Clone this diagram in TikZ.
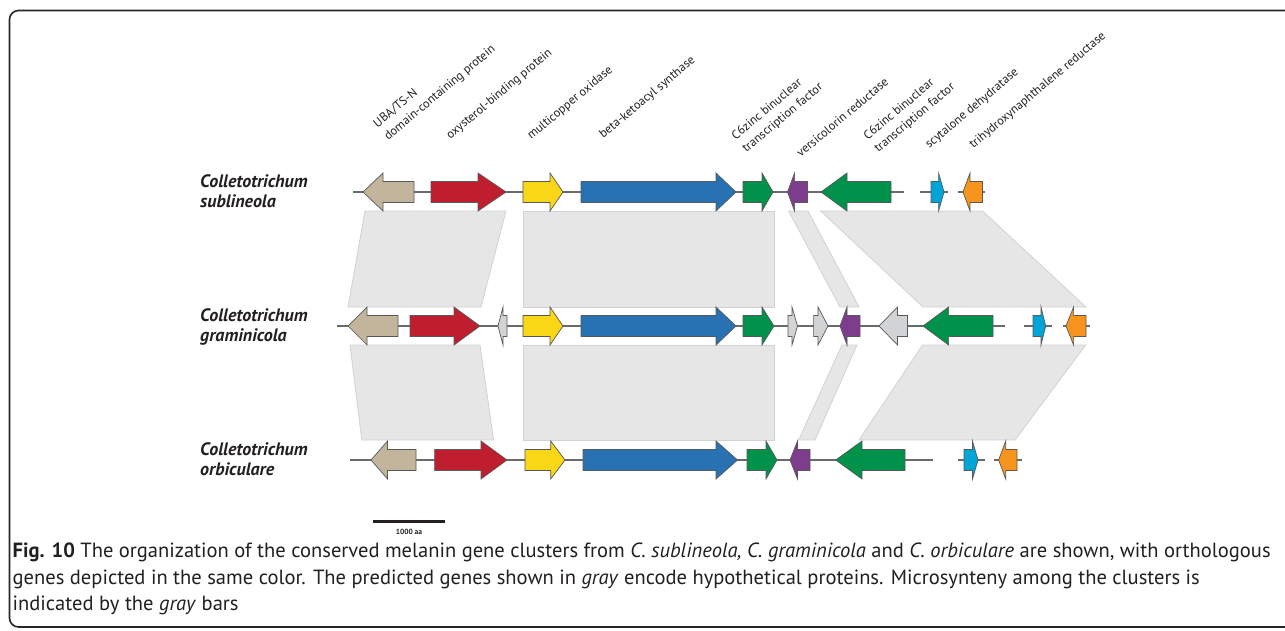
\documentclass[tikz,border=0pt]{standalone}
\usepackage{fontspec}
\setmainfont{PT Sans}
\definecolor{gtan}{HTML}{C2B59B}
\definecolor{gred}{HTML}{BE1E2D}
\definecolor{gyel}{HTML}{F9D616}
\definecolor{gblue}{HTML}{2872B4}
\definecolor{ggreen}{HTML}{00924A}
\definecolor{gpurp}{HTML}{7D3C8C}
\definecolor{gcyan}{HTML}{00A5D8}
\definecolor{gorange}{HTML}{F7941D}
\definecolor{ggray}{HTML}{D1D3D4}
\definecolor{barfill}{HTML}{E6E6E6}
\definecolor{barline}{HTML}{D2D2D2}
\definecolor{outl}{HTML}{58595B}
\definecolor{txt}{HTML}{231F20}
\newcommand{\genearrow}[5]{% y, body end, head base, tip, colour
  \draw[genestyle, fill=#5] (#2,#1-10.5) -- (#3,#1-10.5) -- (#3,#1-19) -- (#4,#1) -- (#3,#1+19) -- (#3,#1+10.5) -- (#2,#1+10.5) -- cycle;}
\newcommand{\capA}{\textbf{Fig. 10} The organization of the conserved melanin gene clusters from \textit{C. sublineola, C. graminicola} and \textit{C. orbiculare} are shown, with orthologous}
\newcommand{\capB}{genes depicted in the same color. The predicted genes shown in \textit{gray} encode hypothetical proteins. Microsynteny among the clusters is}
\newcommand{\capC}{indicated by the \textit{gray} bars}
\newsavebox\capmeasure
\begin{document}
\sbox\capmeasure{\fontsize{10}{12}\selectfont\capA}%
\pgfmathsetmacro\capsize{1258/\the\wd\capmeasure*10}%
\begin{tikzpicture}[x=1pt,y=-1pt,
  genestyle/.style={draw=outl, line width=0.7pt, line join=miter},
  backbone/.style={draw=outl!90, line width=1.1pt},
  bar/.style={fill=barfill, draw=barline, line width=0.8pt},
  lab/.style={font=\fontsize{12.3}{16.5}\selectfont, text=txt, rotate=40, anchor=south west, inner sep=0pt, align=left},
  species/.style={font=\fontsize{18}{20}\selectfont\bfseries\itshape, text=txt, anchor=base west, inner sep=0pt},
  capline/.style={text=txt, anchor=base west, inner sep=0pt}]
\useasboundingbox (0,0) rectangle (1285,630);
\clip (0,0) rectangle (1285,630);
\fill[white] (0,0) rectangle (1285,630);
% frame
\draw[line width=1.6pt, rounded corners=9pt, draw=black!85] (9.5,10.5) rectangle (1320,627);

% synteny bars rows 1-2
\path[bar] (365,211) -- (506,211) -- (481,307) -- (348,307) -- cycle;
\path[bar] (523,211) -- (774,211) -- (774,307) -- (523,307) -- cycle;
\path[bar] (788.6,211) -- (808,211) -- (859,307) -- (840,307) -- cycle;
\path[bar] (820.7,211) -- (982.5,211) -- (1086,307) -- (923,307) -- cycle;
% synteny bars rows 2-3
\path[bar] (350,345) -- (480,345) -- (493.6,440) -- (361.8,440) -- cycle;
\path[bar] (523,345) -- (774,345) -- (774,440) -- (523,440) -- cycle;
\path[bar] (842,345) -- (857,345) -- (815,440) -- (798.6,440) -- cycle;
\path[bar] (922.5,345) -- (1085.7,345) -- (1015,440) -- (859,440) -- cycle;

% row 1 : sublineola
\draw[backbone] (353,192) -- (904,192);
\draw[backbone] (920,192) -- (947.5,192);
\draw[backbone] (958,192) -- (985,192);
\genearrow{192}{414}{383}{363}{gtan}
\genearrow{192}{431}{478}{506}{gred}
\genearrow{192}{523}{550}{563}{gyel}
\genearrow{192}{581}{716}{736}{gblue}
\genearrow{192}{743}{762}{773}{ggreen}
\genearrow{192}{807.5}{794.6}{787.5}{gpurp}
\genearrow{192}{891}{847}{821}{ggreen}
\genearrow{192}{931}{938.6}{944}{gcyan}
\genearrow{192}{982.5}{970}{963}{gorange}

% row 2 : graminicola
\draw[backbone] (337,326) -- (1004.6,326);
\draw[backbone] (1024,326) -- (1052,326);
\draw[backbone] (1063,326) -- (1090,326);
\genearrow{326}{398}{367}{348}{gtan}
\genearrow{326}{410}{454}{480}{gred}
\genearrow{326}{507}{503}{498}{ggray}
\genearrow{326}{523}{550}{563}{gyel}
\genearrow{326}{581}{716}{736}{gblue}
\genearrow{326}{743}{762}{774}{ggreen}
\genearrow{326}{788}{792}{797.5}{ggray}
\genearrow{326}{813.6}{818}{828}{ggray}
\genearrow{326}{860}{847}{840}{gpurp}
\genearrow{326}{907.5}{897.5}{879}{ggray}
\genearrow{326}{993}{948.6}{923}{ggreen}
\genearrow{326}{1033}{1041}{1045.7}{gcyan}
\genearrow{326}{1086}{1073.6}{1066}{gorange}

% row 3 : orbiculare
\draw[backbone] (350,460) -- (932.5,460);
\draw[backbone] (957.5,460) -- (985,460);
\draw[backbone] (994,460) -- (1022,460);
\genearrow{460}{416}{387.5}{371}{gtan}
\genearrow{460}{434.6}{481}{507}{gred}
\genearrow{460}{525}{550.7}{565}{gyel}
\genearrow{460}{583}{716}{737.5}{gblue}
\genearrow{460}{747}{766}{777}{ggreen}
\genearrow{460}{810}{797.5}{790}{gpurp}
\genearrow{460}{905}{862}{835.7}{ggreen}
\genearrow{460}{964}{972.5}{978}{gcyan}
\genearrow{460}{1017}{1005.7}{998.6}{gorange}

% gene labels
\node[lab] (l1) at (390,143) {UBA/TS-N\\domain-containing protein};
\node[lab] (l2) at (452,142) {oxysterol-binding protein};
\node[lab] (l3) at (533,142) {multicopper oxidase};
\node[lab] (l4) at (605,141) {beta-ketoacyl synthase};
\node[lab] (l5) at (748,155) {C6zinc binuclear\\transcription factor};
\node[lab] (l6) at (801,158) {versicolorin reductase};
\node[lab] (l7) at (880,155) {C6zinc binuclear\\transcription factor};
\node[lab] (l8) at (931,151) {scytalone dehydratase};
\node[lab] (l9) at (975,151) {trihydroxynaphthalene reductase};

% species
\node[species] (s1a) at (200,187) {Colletotrichum};
\node[species] (s1b) at (200,207) {sublineola};
\node[species] (s2a) at (200,321) {Colletotrichum};
\node[species] (s2b) at (200,341.5) {graminicola};
\node[species] (s3a) at (200,455) {Colletotrichum};
\node[species] (s3b) at (200,475) {orbiculare};

% scale bar
\coordinate (sbl) at (373,521.5);
\coordinate (sbr) at (445,521.5);
\draw[line width=3pt, draw=txt] (sbl) -- (sbr);
\node[font=\fontsize{7.5}{8}\selectfont\bfseries, text=txt, inner sep=0pt] (sbt) at (409,531.5) {1000 aa};

% caption
\node[capline, font=\fontsize{\capsize pt}{26pt}\selectfont] (c1) at (12.5,557) {\capA};
\node[capline, font=\fontsize{\capsize pt}{26pt}\selectfont] (c2) at (12.5,584) {\capB};
\node[capline, font=\fontsize{\capsize pt}{26pt}\selectfont] (c3) at (12.5,610) {\capC};
\end{tikzpicture}
\end{document}
